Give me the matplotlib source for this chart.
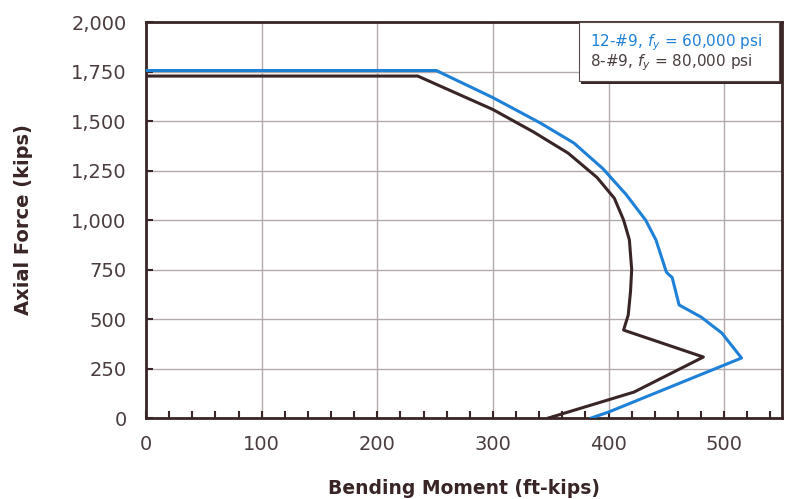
import numpy as np
import matplotlib
matplotlib.use('Agg')
import matplotlib.pyplot as plt
from matplotlib.patches import Rectangle
from matplotlib.ticker import MultipleLocator, FuncFormatter

# interaction diagram data
m_60 = [0, 251, 300, 341, 370, 395, 415, 432, 441, 450, 452, 455, 461, 480, 498, 515, 400, 385]
p_60 = [1755, 1755, 1618, 1490, 1389, 1260, 1130, 1000, 899, 737, 725, 710, 571, 510, 429, 303, 30, 0]

m_80 = [0, 235, 300, 335, 365, 390, 405, 413, 418, 420, 419, 417, 413, 482, 422, 348]
p_80 = [1727, 1727, 1558, 1445, 1338, 1215, 1110, 1000, 900, 750, 640, 520, 444, 308, 131, 0]

label_60 = r'12-#9, $f_y$ = 60,000 psi'
label_80 = r'8-#9, $f_y$ = 80,000 psi'

blue = '#1f80d8'
dark = '#3a2526'
txt = '#4a3d3e'

plt.rcParams['font.family'] = ['DejaVu Sans']

fig = plt.figure(figsize=(7.88, 4.99), dpi=100)
ax = fig.add_axes([0.1853, 0.1623, 0.8071, 0.7936])

ax.plot(m_60, p_60, color=blue, lw=2.2, zorder=3)
ax.plot(m_80, p_80, color=dark, lw=2.2, zorder=3)

ax.set_xlim(0, 550)
ax.set_ylim(0, 2000)
ax.xaxis.set_major_locator(MultipleLocator(100))
ax.xaxis.set_minor_locator(MultipleLocator(20))
ax.yaxis.set_major_locator(MultipleLocator(250))
ax.yaxis.set_major_formatter(FuncFormatter(lambda v, p: '{:,.0f}'.format(v)))

ax.grid(True, which='major', color='#b3abab', lw=1.0)
ax.set_axisbelow(True)

ax.tick_params(axis='x', which='both', direction='in', length=5, width=1.5,
               color=dark, top=False, pad=12, labelsize=14, labelcolor=txt)
ax.tick_params(axis='y', which='major', direction='in', length=5, width=1.5,
               color=dark, right=False, pad=14, labelsize=14, labelcolor=txt)
for s in ax.spines.values():
    s.set_color(dark)
    s.set_linewidth(2.0)

ax.set_xlabel('Bending Moment (ft-kips)', fontsize=13.5, fontweight='bold',
              color=dark, labelpad=18)
ax.set_ylabel('Axial Force (kips)', fontsize=14, fontweight='bold',
              color=dark, labelpad=27)

# legend box
ax.add_patch(Rectangle((0.684, 0.843), 0.318, 0.157, transform=ax.transAxes,
                       facecolor=dark, edgecolor='none', zorder=4, clip_on=False))
ax.add_patch(Rectangle((0.681, 0.850), 0.314, 0.150, transform=ax.transAxes,
                       facecolor='white', edgecolor='#5a4a4a', lw=0.8,
                       zorder=5, clip_on=False))
ax.text(0.698, 0.949, label_60, transform=ax.transAxes, color=blue,
        fontsize=11, va='center', ha='left', zorder=6)
ax.text(0.698, 0.896, label_80, transform=ax.transAxes, color=txt,
        fontsize=11, va='center', ha='left', zorder=6)

plt.savefig('out.png', dpi=100)
